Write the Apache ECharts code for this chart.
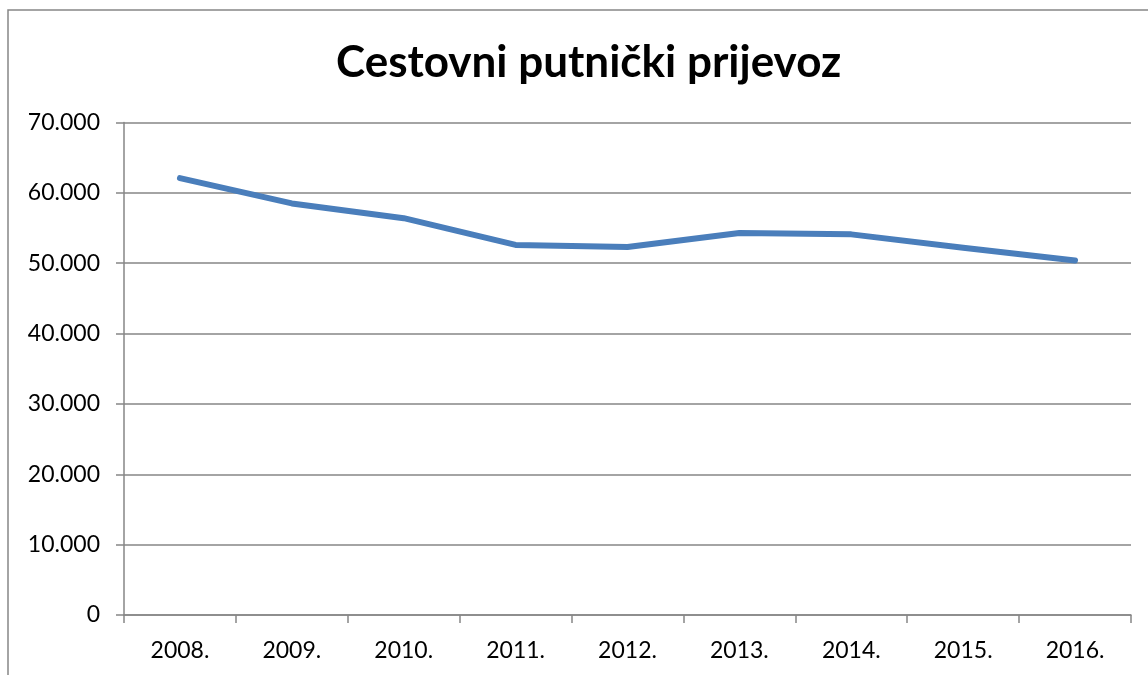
<!DOCTYPE html>
<html>
<head>
<meta charset="utf-8">
<script src="https://cdn.jsdelivr.net/npm/echarts@6/dist/echarts.min.js"></script>
<style>
  html, body { margin: 0; padding: 0; background: #fff; overflow: hidden; }
  #main { width: 1148px; height: 675px; }
</style>
</head>
<body>
<div id="main"></div>
<script>
var titleText = 'Cestovni putnički prijevoz';
var years = ['2008.', '2009.', '2010.', '2011.', '2012.', '2013.', '2014.', '2015.', '2016.'];
var passengers = [62100, 58500, 56400, 52600, 52300, 54300, 54100, 52200, 50400];
var yMin = 0, yMax = 70000, yStep = 10000;

// labels use dot as thousands separator
var fmtThousands = function (v) {
    if (v === 0) return '0';
    return (v / 1000).toFixed(3);
};

var axisGrey = '#868686';
var myChart = echarts.init(document.getElementById('main'));
var option = {
    animation: false,
    textStyle: { fontFamily: 'Lato' },
    graphic: [{
        type: 'rect',
        shape: { x: 8, y: 10, width: 1200, height: 700 },
        style: { fill: 'none', stroke: axisGrey, lineWidth: 1.5 },
        silent: true
    }],
    title: {
        text: titleText,
        left: 331,
        top: 36,
        textStyle: { fontFamily: 'Lato', fontWeight: 'bold', fontSize: 44, color: '#000' }
    },
    grid: { left: 124, right: 17, top: 122.5, bottom: 60 },
    xAxis: {
        type: 'category',
        data: years,
        boundaryGap: true,
        axisLine: { lineStyle: { color: axisGrey, width: 1.5 } },
        axisTick: { show: true, alignWithLabel: false, length: 8, lineStyle: { color: axisGrey, width: 1.5 } },
        axisLabel: { color: '#000', fontSize: 23, margin: 24 },
        splitLine: { show: false }
    },
    yAxis: {
        type: 'value',
        min: yMin,
        max: yMax,
        interval: yStep,
        axisLine: { show: true, lineStyle: { color: axisGrey, width: 1.5 } },
        axisTick: { show: true, length: 8, lineStyle: { color: axisGrey, width: 1.5 } },
        axisLabel: { color: '#000', fontSize: 23, margin: 24, formatter: fmtThousands },
        splitLine: { show: true, lineStyle: { color: axisGrey, width: 1.5 } }
    },
    series: [{
        name: titleText,
        type: 'line',
        data: passengers,
        symbol: 'none',
        lineStyle: { color: '#4A7EBB', width: 6, cap: 'round', join: 'round' }
    }]
};
myChart.setOption(option);
</script>
</body>
</html>
